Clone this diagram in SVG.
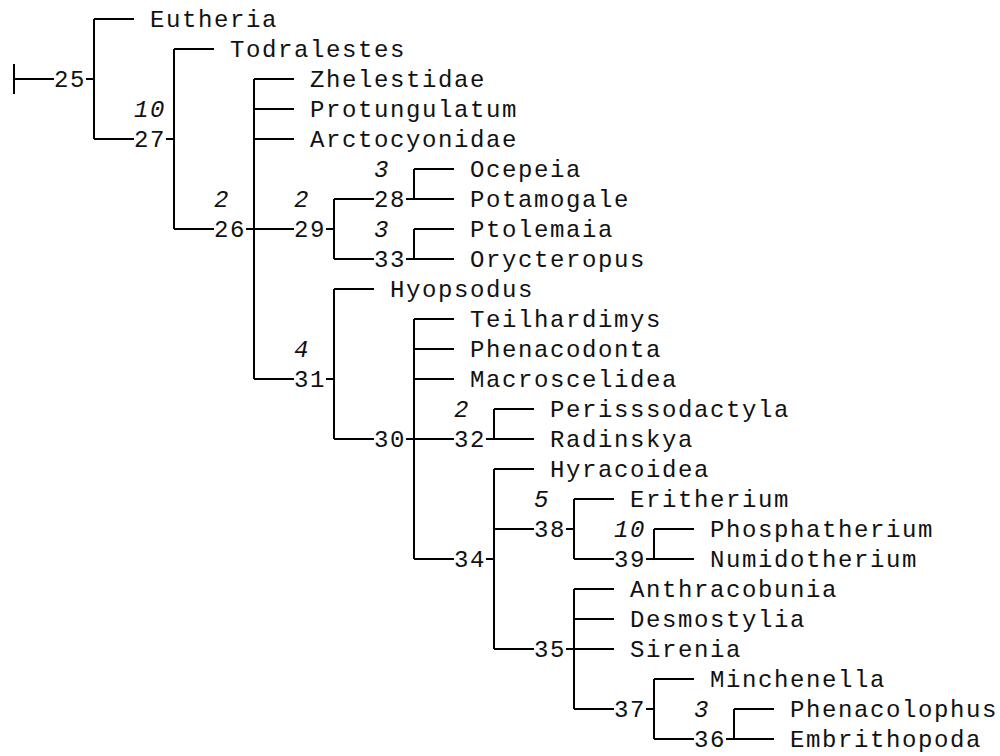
<svg xmlns="http://www.w3.org/2000/svg" width="1000" height="756" viewBox="0 0 1000 756">
<style>
.bg{fill:#ffffff}
.ln{stroke:#000;stroke-width:2;fill:none;stroke-linecap:butt}
text{font-family:"Liberation Mono","Courier New",monospace;font-size:24px;letter-spacing:1.6px;fill:#111}
.i{font-style:italic}
</style>
<rect class="bg" x="0" y="0" width="1000" height="756"/>
<g id="connectors" class="ln">
<path d="M14 64V94M14 79H54M86 79H94"/>
<path d="M94 19V139M94 19H134M94 139H134M166 139H174"/>
<path d="M174 49V229M174 49H214M174 229H214M246 229H294"/>
<path d="M254 79V379M254 79H294M254 109H294M254 139H294M254 379H294M326 379H334"/>
<path d="M326 229H334M334 199V259M334 199H374M334 259H374"/>
<path d="M414 169V199M414 169H454M406 199H454"/>
<path d="M414 229V259M414 229H454M406 259H454"/>
<path d="M334 289V439M334 289H374M334 439H374M406 439H454"/>
<path d="M414 319V559M414 319H454M414 349H454M414 379H454M414 559H454M486 559H494"/>
<path d="M494 409V439M494 409H534M486 439H534"/>
<path d="M494 469V649M494 469H534M494 529H534M494 649H534M566 529H574"/>
<path d="M574 499V559M574 499H614M574 559H614"/>
<path d="M654 529V559M654 529H694M646 559H694"/>
<path d="M574 589V709M574 589H614M574 619H614M566 649H614M574 709H614M646 709H654"/>
<path d="M654 679V739M654 679H694M654 739H694"/>
<path d="M734 709V739M734 709H774M726 739H774"/>
</g>
<g id="n25"><text x="54" y="87">25</text></g>
<g id="n27"><text class="i" x="134" y="117">10</text><text x="134" y="147">27</text></g>
<g id="n26"><text class="i" x="214" y="207">2</text><text x="214" y="237">26</text></g>
<g id="n29"><text class="i" x="294" y="207">2</text><text x="294" y="237">29</text></g>
<g id="n28"><text class="i" x="374" y="177">3</text><text x="374" y="207">28</text></g>
<g id="n33"><text class="i" x="374" y="237">3</text><text x="374" y="267">33</text></g>
<g id="n31"><text class="i" x="294" y="357">4</text><text x="294" y="387">31</text></g>
<g id="n30"><text x="374" y="447">30</text></g>
<g id="n32"><text class="i" x="454" y="417">2</text><text x="454" y="447">32</text></g>
<g id="n34"><text x="454" y="567">34</text></g>
<g id="n38"><text class="i" x="534" y="507">5</text><text x="534" y="537">38</text></g>
<g id="n39"><text class="i" x="614" y="537">10</text><text x="614" y="567">39</text></g>
<g id="n35"><text x="534" y="657">35</text></g>
<g id="n37"><text x="614" y="717">37</text></g>
<g id="n36"><text class="i" x="694" y="717">3</text><text x="694" y="747">36</text></g>
<g id="Eutheria"><text x="150" y="27">Eutheria</text></g>
<g id="Todralestes"><text x="230" y="57">Todralestes</text></g>
<g id="Zhelestidae"><text x="310" y="87">Zhelestidae</text></g>
<g id="Protungulatum"><text x="310" y="117">Protungulatum</text></g>
<g id="Arctocyonidae"><text x="310" y="147">Arctocyonidae</text></g>
<g id="Ocepeia"><text x="470" y="177">Ocepeia</text></g>
<g id="Potamogale"><text x="470" y="207">Potamogale</text></g>
<g id="Ptolemaia"><text x="470" y="237">Ptolemaia</text></g>
<g id="Orycteropus"><text x="470" y="267">Orycteropus</text></g>
<g id="Hyopsodus"><text x="390" y="297">Hyopsodus</text></g>
<g id="Teilhardimys"><text x="470" y="327">Teilhardimys</text></g>
<g id="Phenacodonta"><text x="470" y="357">Phenacodonta</text></g>
<g id="Macroscelidea"><text x="470" y="387">Macroscelidea</text></g>
<g id="Perisssodactyla"><text x="550" y="417">Perisssodactyla</text></g>
<g id="Radinskya"><text x="550" y="447">Radinskya</text></g>
<g id="Hyracoidea"><text x="550" y="477">Hyracoidea</text></g>
<g id="Eritherium"><text x="630" y="507">Eritherium</text></g>
<g id="Phosphatherium"><text x="710" y="537">Phosphatherium</text></g>
<g id="Numidotherium"><text x="710" y="567">Numidotherium</text></g>
<g id="Anthracobunia"><text x="630" y="597">Anthracobunia</text></g>
<g id="Desmostylia"><text x="630" y="627">Desmostylia</text></g>
<g id="Sirenia"><text x="630" y="657">Sirenia</text></g>
<g id="Minchenella"><text x="710" y="687">Minchenella</text></g>
<g id="Phenacolophus"><text x="790" y="717">Phenacolophus</text></g>
<g id="Embrithopoda"><text x="790" y="747">Embrithopoda</text></g>
</svg>
